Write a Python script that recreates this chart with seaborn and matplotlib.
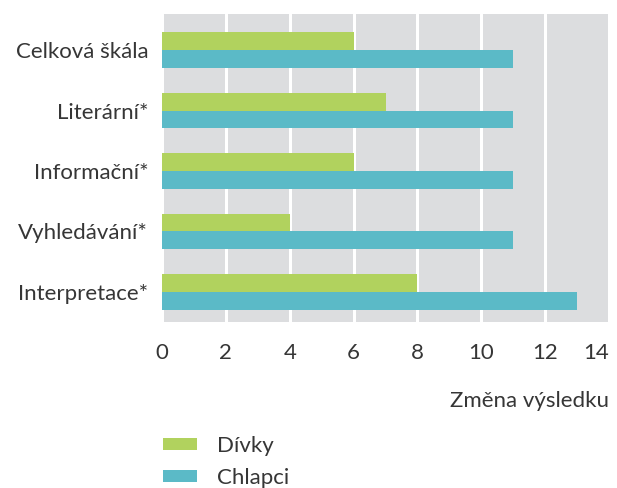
import matplotlib
matplotlib.use("Agg")
import matplotlib.pyplot as plt
import pandas as pd
import seaborn as sns

categories = ["Celková škála", "Literární*", "Informační*", "Vyhledávání*", "Interpretace*"]
divky = [6, 7, 6, 4, 8]
chlapci = [11, 11, 11, 11, 13]
series = ["Dívky", "Chlapci"]
colors = ["#b1d25e", "#5bbac7"]
xticks = [0, 2, 4, 6, 8, 10, 12, 14]

df = pd.DataFrame({
    "kategorie": categories * 2,
    "zmena": divky + chlapci,
    "skupina": [series[0]] * len(categories) + [series[1]] * len(categories),
})

sns.set_style("white")
plt.rcParams["font.family"] = ["Lato", "DejaVu Sans"]
txt = "#363636"
fs = 16

fig = plt.figure(figsize=(6.17, 4.88), dpi=100)
ax = fig.add_axes([0.2626, 0.340, 0.7245, 0.631])
ax.set_facecolor("#dcdddf")

sns.barplot(data=df, y="kategorie", x="zmena", hue="skupina", order=categories,
            hue_order=series, palette=colors, orient="h", width=0.59, gap=0,
            saturation=1, linewidth=0, edgecolor="none", ax=ax, legend=True)

ax.set_xlim(0, 14)
ax.set_ylim(4.5, -0.595)
ax.set_xticks(xticks)
ax.set_axisbelow(True)
ax.grid(axis="x", color="white", linewidth=2.2)
ax.grid(axis="y", visible=False)
for s in ax.spines.values():
    s.set_visible(False)
ax.tick_params(axis="both", length=0, labelsize=fs, colors=txt)
ax.tick_params(axis="x", pad=15)
ax.tick_params(axis="y", pad=10)
ax.get_xticklabels()[-1].set_horizontalalignment("right")
ax.set_ylabel("")
ax.set_xlabel("Změna výsledku", fontsize=fs, color=txt, loc="right", labelpad=20)

handles, labels = ax.get_legend_handles_labels()
ax.get_legend().remove()
fig.legend(handles, labels, loc="upper left", bbox_to_anchor=(0.264, 0.107),
           frameon=False, fontsize=fs, handlelength=1.55, handleheight=0.45,
           handletextpad=0.9, labelspacing=0.55, borderpad=0, borderaxespad=0,
           labelcolor=txt)

fig.savefig("out.png", dpi=100)
